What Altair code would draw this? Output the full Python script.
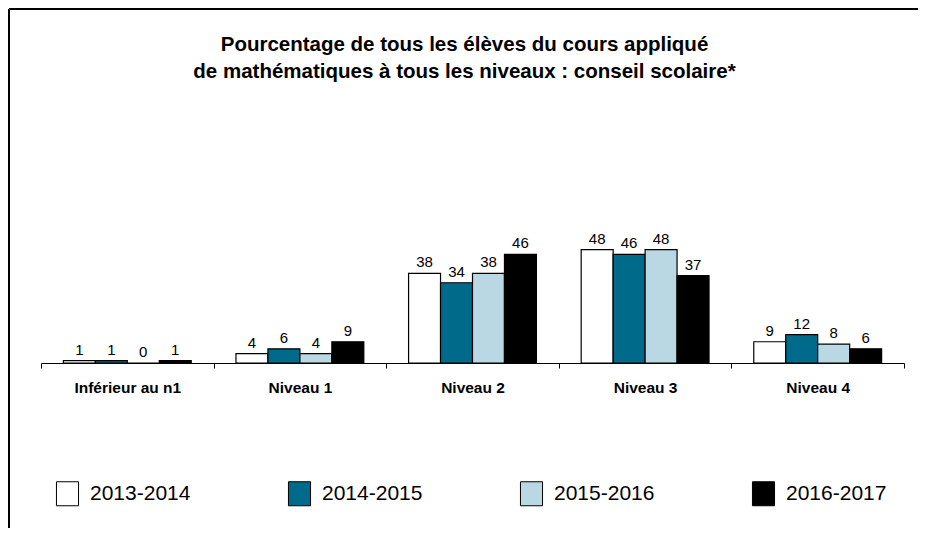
import altair as alt
import pandas as pd

categories = ["Inférieur au n1", "Niveau 1", "Niveau 2", "Niveau 3", "Niveau 4"]
years = ["2013-2014", "2014-2015", "2015-2016", "2016-2017"]
v2013 = [1, 4, 38, 48, 9]
v2014 = [1, 6, 34, 46, 12]
v2015 = [0, 4, 38, 48, 8]
v2016 = [1, 9, 46, 37, 6]
colors = ["#ffffff", "#006a8a", "#b9d8e3", "#000000"]
title_lines = ["Pourcentage de tous les élèves du cours appliqué",
               "de mathématiques à tous les niveaux : conseil scolaire*"]

rows = []
for yr, vals in zip(years, [v2013, v2014, v2015, v2016]):
    for c, v in zip(categories, vals):
        rows.append({"niveau": c, "annee": yr, "pct": v})
df = pd.DataFrame(rows)

FONT = "Liberation Sans"

x = alt.X("niveau:N", sort=categories,
          scale=alt.Scale(paddingInner=0, paddingOuter=0),
          axis=alt.Axis(title=None, labelAngle=0, tickBand="extent",
                        domainColor="black", tickColor="black", tickSize=5,
                        labelFont=FONT, labelFontSize=15.5, labelFontWeight="bold",
                        labelColor="black", labelPadding=12, grid=False))
xo = alt.XOffset("annee:N", sort=years,
                 scale=alt.Scale(paddingInner=0, paddingOuter=0.7))
y = alt.Y("pct:Q", scale=alt.Scale(domain=[0, 100]), axis=None)

bars = alt.Chart(df).mark_bar(stroke="black", strokeWidth=1.2).encode(
    x=x, xOffset=xo, y=y,
    color=alt.Color("annee:N", sort=years,
                    scale=alt.Scale(domain=years, range=colors),
                    legend=alt.Legend(title=None, orient="none", legendX=14, legendY=354,
                                      direction="horizontal", columns=4, columnPadding=95,
                                      symbolType="M-0.92,-1H0.92V1H-0.92Z", symbolSize=576,
                                      symbolStrokeColor="black", symbolStrokeWidth=1,
                                      symbolOpacity=1, labelFontSize=21, labelFont=FONT,
                                      labelOffset=10, labelLimit=300, padding=0,
                                      labelColor="black"))
)

labels = alt.Chart(df).mark_text(baseline="alphabetic", dy=-6, fontSize=15,
                                 font=FONT, color="black").encode(
    x=x, xOffset=xo, y=y, text="pct:Q"
)

frame_src = pd.DataFrame({"k": [0]})
left_line = alt.Chart(frame_src).mark_rule(color="black", strokeWidth=2).encode(
    x=alt.value(-32), y=alt.value(-118), y2=alt.value(600))
top_line = alt.Chart(frame_src).mark_rule(color="black", strokeWidth=2).encode(
    x=alt.value(-32), x2=alt.value(1000), y=alt.value(-118))

chart = alt.layer(bars, labels, left_line, top_line).properties(
    width=863, height=236,
    autosize=alt.AutoSizeParams(type="none"),
    padding={"left": 33, "top": 119, "right": 14, "bottom": 165},
    background="white",
    title=alt.TitleParams(text=title_lines, fontSize=20.5, fontWeight="bold", font=FONT,
                          anchor="middle", frame="group", offset=-74, lineHeight=27,
                          dx=-8, color="black"),
).configure_view(stroke=None)

chart.save("out.html", embed_options={"renderer": "svg", "actions": False})
